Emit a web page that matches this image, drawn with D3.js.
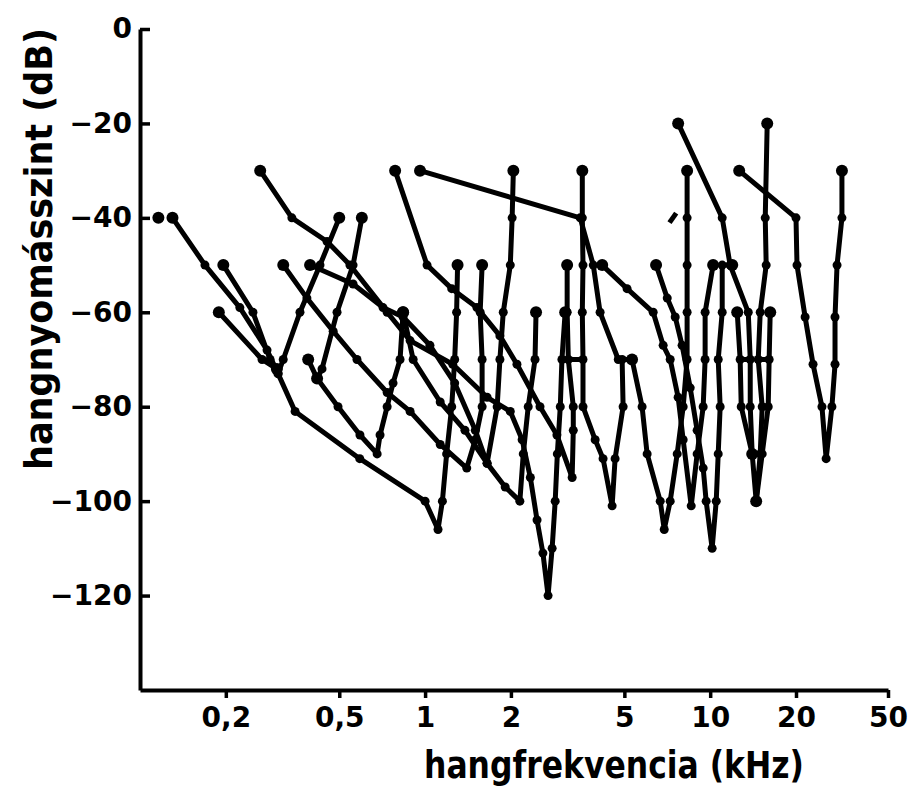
<!DOCTYPE html>
<html>
<head>
<meta charset="utf-8">
<script src="https://cdn.jsdelivr.net/npm/d3@7"></script>
<style>
body { margin: 0; background: #fff; }
</style>
</head>
<body>
<div id="chart"></div>
<script>
// tick labels
const xTicks = [0.2, 0.5, 1, 2, 5, 10, 20, 50];
const yTicks = [0, -20, -40, -60, -80, -100, -120];

// tuning curves: [frequency kHz, level dB]
const curveA = [[0.13,-40],[0.169,-50],[0.224,-59],[0.279,-68],[0.305,-73],[0.35,-81],[0.59,-91],[1.0,-100],[1.11,-106],[1.15,-100],[1.19,-90],[1.24,-80],[1.27,-70],[1.29,-60],[1.3,-50]];
const curveB = [[0.196,-50],[0.249,-60],[0.286,-70],[0.305,-73],[0.318,-70],[0.364,-60],[0.428,-50],[0.5,-40]];
const curveC = [[0.189,-60],[0.268,-70],[0.302,-72]];
const curveD = [[0.264,-30],[0.341,-40],[0.453,-45],[0.545,-50],[0.736,-60],[0.886,-66],[1.25,-71],[1.65,-78],[1.99,-81],[2.19,-87],[2.34,-95],[2.47,-104],[2.59,-111],[2.7,-120],[2.79,-110],[2.86,-100],[2.91,-90],[2.98,-80],[3.02,-70],[3.1,-60]];
const curveE = [[0.418,-74],[0.435,-72],[0.491,-60],[0.559,-50],[0.6,-40]];
const curveF = [[0.389,-70],[0.418,-74],[0.495,-80],[0.591,-86],[0.679,-90],[0.695,-86],[0.736,-80],[0.772,-75],[0.817,-70],[0.837,-60]];
const curveG = [[0.318,-50],[0.385,-57],[0.476,-64],[0.577,-70],[0.736,-77],[0.886,-81],[1.13,-88],[1.4,-93],[1.5,-87],[1.585,-80],[1.585,-70],[1.56,-60],[1.585,-50]];
const curveH = [[0.395,-50],[0.559,-54],[0.712,-59],[0.837,-61],[1.04,-67],[1.27,-75],[1.5,-85],[1.65,-92],[1.79,-80],[1.83,-70],[1.88,-60],[1.99,-50],[2.02,-40],[2.04,-30]];
const curveI = [[0.837,-60],[0.908,-70],[1.13,-79],[1.38,-85],[1.65,-92],[1.91,-97],[2.15,-100],[2.21,-90],[2.3,-80],[2.43,-70],[2.45,-60]];
const curveJ = [[0.785,-30],[1.016,-50],[1.24,-55],[1.52,-59],[1.83,-65],[2.1,-71],[2.53,-80],[2.9,-86],[3.28,-95],[3.31,-85],[3.31,-80],[3.18,-70],[3.15,-60],[3.15,-50]];
const curveK = [[3.56,-30],[3.56,-40],[3.58,-50],[3.56,-60],[3.58,-70],[3.58,-80],[3.95,-87],[4.21,-91],[4.53,-101],[4.64,-91],[4.95,-80],[4.91,-70],[5.32,-70]];
const curveL = [[0.96,-30],[3.5,-40],[3.89,-50],[4.11,-60],[4.76,-70],[5.32,-70],[5.77,-80],[6.01,-90],[6.68,-100],[6.9,-106],[7.24,-100],[7.66,-90],[8.04,-80],[8.3,-70],[8.3,-60],[8.3,-50],[8.3,-40],[8.3,-30]];
const curveM = [[4.18,-50],[5.11,-55],[6.31,-60],[6.84,-67],[7.24,-70],[7.72,-78],[8.04,-87],[8.58,-101],[9.0,-90],[9.45,-80],[9.6,-70],[9.6,-60],[10.24,-50]];
const curveN = [[6.46,-50],[7.07,-57],[7.54,-61],[7.97,-67],[8.51,-76],[9.0,-85],[9.45,-93],[9.68,-100],[10.16,-110],[10.5,-100],[10.67,-90],[10.84,-80],[10.67,-70],[11.02,-60],[11.02,-50],[11.95,-50]];
const curveO = [[7.72,-20],[11.02,-40],[11.75,-50],[13.6,-60],[13.82,-70],[13.82,-80],[14.04,-90],[14.5,-100],[14.98,-90],[15.22,-80],[14.74,-70],[14.98,-60],[15.72,-50],[15.6,-40],[15.85,-20]];
const curveP = [[12.44,-60],[12.74,-70],[12.85,-80],[14.04,-90]];
const curveQ = [[16.24,-60],[16.1,-70],[15.98,-80],[15.22,-90],[14.5,-100]];
const curveR = [[12.64,-30],[20,-40],[20.2,-50],[21.9,-61],[23.7,-71],[25.9,-80],[27,-91],[28.6,-80],[29.5,-71],[29.5,-61],[30.1,-50],[31.6,-40],[31.6,-30]];

// short connecting bars, the stray dash and the loose dot
const bars = [[[3.18,-70],[3.58,-70]], [[12.74,-70],[13.82,-70]], [[14.74,-70],[16.1,-70]]];
const dash = [[7.2,-41],[7.6,-39]];
const looseDots = [[0.116,-40]];

const curves = [curveA, curveB, curveC, curveD, curveE, curveF, curveG, curveH, curveI,
	curveJ, curveK, curveL, curveM, curveN, curveO, curveP, curveQ, curveR];

var width = 908, height = 789;

const svg = d3.select("#chart").append("svg")
	.attr("width", width)
	.attr("height", height);

// log axis, last decade squeezed like in the original drawing
const x = d3.scaleLog()
	.domain([0.1, 20, 50])
	.range([140, 796, 888]);

const y = d3.scaleLinear()
	.domain([-140, 0])
	.range([690, 29]);

const line = d3.line()
	.x(function(d) { return x(d[0]); })
	.y(function(d) { return y(d[1]); });

const font = "'DejaVu Sans', 'Liberation Sans', sans-serif";

// axes
const xAxis = svg.append("g")
	.attr("transform", "translate(0," + y(-140) + ")")
	.call(d3.axisBottom(x)
		.tickValues(xTicks)
		.tickSizeInner(8)
		.tickSizeOuter(0)
		.tickPadding(9)
		.tickFormat(function(d) { return String(d).replace(".", ","); }));

const yAxis = svg.append("g")
	.attr("transform", "translate(" + x(0.1) + ",0)")
	.call(d3.axisLeft(y)
		.tickValues(yTicks)
		.tickSizeInner(-10)
		.tickSizeOuter(0)
		.tickPadding(8)
		.tickFormat(function(d) { return d < 0 ? "\u2212" + Math.abs(d) : d; }));

[xAxis, yAxis].forEach(function(g) {
	g.attr("font-family", font).attr("font-size", 28).attr("font-weight", "bold");
	g.select(".domain").attr("stroke", "#000").attr("stroke-width", 4);
	g.selectAll(".tick line").attr("stroke", "#000").attr("stroke-width", 3.5);
	g.selectAll(".tick text").attr("fill", "#000");
});

// curves
svg.append("g").selectAll("path.curve")
	.data(curves.concat(bars))
	.enter().append("path")
	.attr("class", "curve")
	.attr("d", line)
	.attr("fill", "none")
	.attr("stroke", "#000")
	.attr("stroke-width", 5)
	.attr("stroke-linejoin", "round")
	.attr("stroke-linecap", "round");

svg.append("path")
	.attr("d", line(dash))
	.attr("stroke", "#000")
	.attr("stroke-width", 5)
	.attr("stroke-linecap", "butt");

var points = [];
curves.forEach(function(c) {
	c.forEach(function(p, i) {
		points.push({ f: p[0], db: p[1], end: i === 0 || i === c.length - 1 });
	});
});
looseDots.forEach(function(p) { points.push({ f: p[0], db: p[1], end: true }); });

svg.append("g").selectAll("circle")
	.data(points)
	.enter().append("circle")
	.attr("cx", function(d) { return x(d.f); })
	.attr("cy", function(d) { return y(d.db); })
	.attr("r", function(d) { return d.end ? 6 : 4.5; })
	.attr("fill", "#000");

// axis titles
svg.append("text")
	.attr("transform", "translate(52,249) rotate(-90)")
	.attr("text-anchor", "middle")
	.attr("font-family", font)
	.attr("font-size", 37)
	.attr("font-weight", "bold")
	.attr("textLength", 442)
	.attr("lengthAdjust", "spacingAndGlyphs")
	.text("hangnyomásszint (dB)");

svg.append("text")
	.attr("x", 614)
	.attr("y", 778)
	.attr("text-anchor", "middle")
	.attr("font-family", font)
	.attr("font-size", 37)
	.attr("font-weight", "bold")
	.attr("textLength", 380)
	.attr("lengthAdjust", "spacingAndGlyphs")
	.text("hangfrekvencia (kHz)");
</script>
</body>
</html>
